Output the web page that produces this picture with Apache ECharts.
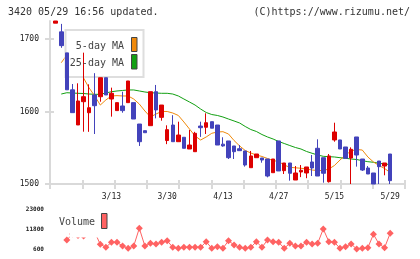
<!DOCTYPE html>
<html>
<head>
<meta charset="utf-8">
<script src="https://cdn.jsdelivr.net/npm/echarts@6/dist/echarts.min.js"></script>
<style>
html,body{margin:0;padding:0;background:#fff;}
#chart{width:420px;height:259px;}
</style>
</head>
<body>
<div id="chart"></div>
<script>
// 日付 (2020)
var dates = ['2/28','3/2','3/3','3/4','3/5','3/6','3/9','3/10','3/11','3/12',
    '3/13','3/16','3/17','3/18','3/19','3/23','3/24','3/25','3/26','3/27',
    '3/30','3/31','4/1','4/2','4/3','4/6','4/7','4/8','4/9','4/10',
    '4/13','4/14','4/15','4/16','4/17','4/20','4/21','4/22','4/23','4/24',
    '4/27','4/28','4/30','5/1','5/7','5/8','5/11','5/12','5/13','5/14',
    '5/15','5/18','5/19','5/20','5/21','5/22','5/25','5/26','5/27','5/28','5/29'];
var labelDates = ['3/13','3/30','4/13','4/27','5/15','5/29'];

var opens  = [1722,1710,1681,1630,1581.5,1613.6,1598.4,1622.9,1620.5,1646.7,
    1617.3,1601.3,1607.7,1612.3,1612.3,1582.8,1573.6,1580.5,1627.4,1592,
    1560,1581.4,1558.4,1564.5,1548.3,1544.6,1580,1578.3,1586,1581.4,
    1555,1559.4,1552.5,1548.7,1545.6,1522.5,1536.3,1535.9,1534.5,1515.6,
    1559.4,1518.4,1529,1505.5,1516.6,1515.2,1530.4,1549.3,1536.3,1503.2,
    1560.8,1560.8,1551.1,1535.9,1564.9,1534.5,1522.1,1515.2,1531.7,1524.8,1541.4];
var closes = [1725,1691,1630,1598.5,1614.6,1620.5,1605.3,1608.1,1646.7,1622.9,
    1625.2,1612.3,1601.3,1642.2,1589.7,1558.4,1570.8,1627.4,1602.2,1609,
    1575,1558.4,1567.6,1549.3,1553.8,1570,1577.7,1584.6,1577,1553.8,
    1552.5,1536.3,1544.6,1546,1526.2,1538.7,1541.4,1533.1,1511,1534.5,
    1518,1529,1514.8,1515.2,1518.9,1523.5,1522.1,1511,1514.8,1538.7,
    1571.8,1548.3,1535.5,1547.9,1540,1519.3,1513.8,1500,1523.9,1529,1504.6];
var lows   = [1722,1688,1630,1598.5,1581.5,1572.2,1572,1569,1613.6,1622.9,
    1593,1601.3,1598.4,1612.3,1589.7,1552.5,1570.8,1580.5,1590.6,1587.4,
    1555,1558.4,1558.4,1549.3,1548.3,1544.6,1565,1569,1577,1553.8,
    1551.5,1534.5,1534.5,1546,1524,1522.5,1536.3,1529.4,1509.2,1515.6,
    1518,1513.8,1504.6,1505.5,1509.5,1508,1511,1511,1501.8,1502,
    1558.4,1548.3,1535.5,1500,1524,1518,1513.8,1500,1500,1512,1500];
var highs  = [1725,1721,1681,1638,1639,1681.3,1637.6,1653,1646.7,1646.7,
    1633,1612.3,1627.4,1642.2,1612.3,1582.8,1573.6,1627.4,1636.7,1609,
    1581,1595,1586,1564.5,1574.5,1572,1586,1597.6,1586,1581.4,
    1564.5,1559.4,1552.5,1553.8,1545.6,1545.6,1541.4,1535.9,1534.5,1534.5,
    1559.4,1529,1529,1524.8,1526.2,1523.5,1540,1561.7,1536.3,1541.4,
    1584.6,1560.8,1551.1,1550.6,1564.9,1534.5,1524.8,1515.2,1531.7,1529,1541.4];

// 5日移動平均
var ma5 = [null,1667.4,1678,1668,1657,1646.3,1632.5,1621.5,1609,1616,
    1621.5,1622,1621.5,1621.5,1617.3,1610.4,1600.8,1592.5,1596.6,1600.1,
    1600.1,1598,1594.6,1585.6,1575.9,1566.3,1560.7,1564.9,1570,1571.8,
    1572.2,1569,1560,1552.5,1546.2,1542.8,1540,1538,1535.2,1532.4,
    1531,1526.2,1523,1522.4,1521.7,1520.7,1519.3,1518.6,1518.6,1520.7,
    1525.5,1533.1,1540,1545.6,1547.6,1546.9,1537.3,1530.4,1525.5,1521.4,1515.9];
// 25日移動平均
var ma25 = [null,1624.2,1626,1625.6,1625.2,1624.9,1624.2,1623.8,1623.8,1625.6,
    1627.4,1628.4,1629.1,1629.8,1629.8,1628.4,1627,1626,1625.6,1625.2,
    1625.2,1624.2,1621.5,1617.3,1613.2,1609,1603.5,1598.7,1595.9,1594.6,
    1592.5,1589.7,1587,1584.2,1579.4,1575.2,1572.5,1568.3,1564.9,1562.1,
    1558.7,1555.9,1553.1,1550.4,1548.3,1544.9,1542.4,1540,1538.2,1537.7,
    1537.3,1536.3,1535.5,1534.5,1533.8,1532.2,1530.8,1530,1528.6,1527.6,1526.9];
// 出来高
var volumes = [null,null,5640,9000,8200,7900,9500,10000,3232,1552,
    4352,4352,2280,992,2280,12192,2280,3792,3400,4352,
    5248,1552,992,1552,1552,1552,1552,4688,992,1888,
    992,5248,2840,1552,992,1552,4688,1552,5640,4688,
    4352,992,3792,2280,2280,4352,3400,3792,11800,4688,
    4352,992,1888,3400,600,992,1328,8832,3400,1328,9392];

var priceTicks = [1500, 1600, 1700];
var volumeTicks = [600, 11800, 23000];
var frameTicks = [0,1,2,3,4,5,6,7,8,9,10,11];

var UP = '#dd0000', DOWN = '#4343bb';
var AXIS = '#d9d9d9';
var MONO = '"DejaVu Sans Mono", monospace';

var categories = dates.concat(['', '']);
var candles = [];
for (var i = 0; i < dates.length; i++) {
    candles.push([opens[i], closes[i], lows[i], highs[i]]);
}

function plain(v) { return String(v); }

var chart = echarts.init(document.getElementById('chart'), null, {renderer: 'canvas'});

var option = {
    animation: false,
    backgroundColor: '#fff',
    grid: [
        {left: 50, top: 21, width: 355, height: 163},
        {left: 52.9, top: 21, width: 351.2, height: 163},
        {left: 52.9, top: 209, width: 351.2, height: 40}
    ],
    xAxis: [
        {type: 'value', gridIndex: 0, min: 0, max: 11, position: 'bottom',
            axisLine: {show: true, lineStyle: {color: AXIS, width: 2}},
            axisTick: {show: true, length: 5, customValues: frameTicks, lineStyle: {color: AXIS, width: 2}},
            axisLabel: {show: false}, splitLine: {show: false}},
        {type: 'value', gridIndex: 0, min: 0, max: 11, position: 'bottom',
            axisLine: {show: false},
            axisTick: {show: true, inside: true, length: 4, customValues: frameTicks, lineStyle: {color: AXIS, width: 2}},
            axisLabel: {show: false}, splitLine: {show: false}},
        {type: 'category', gridIndex: 1, data: categories, boundaryGap: true,
            axisLine: {show: false}, axisTick: {show: false}, splitLine: {show: false},
            axisLabel: {
                margin: 9, fontSize: 8, fontFamily: MONO, color: '#222',
                interval: function (idx, val) { return labelDates.indexOf(val) >= 0; }
            }},
        {type: 'category', gridIndex: 2, data: categories, boundaryGap: true,
            axisLine: {show: false}, axisTick: {show: false}, axisLabel: {show: false}, splitLine: {show: false}}
    ],
    yAxis: [
        {type: 'value', gridIndex: 0, min: 1500, max: 1725, position: 'left',
            axisLine: {show: true, lineStyle: {color: AXIS, width: 2}},
            axisTick: {show: true, length: 5, customValues: priceTicks, lineStyle: {color: AXIS, width: 2}},
            axisLabel: {margin: 11, customValues: priceTicks, formatter: plain,
                fontSize: 8, fontFamily: MONO, color: '#222'},
            splitLine: {show: false}},
        {type: 'value', gridIndex: 0, min: 1500, max: 1725, position: 'left',
            axisLine: {show: false},
            axisTick: {show: true, inside: true, length: 4, customValues: priceTicks, lineStyle: {color: AXIS, width: 2}},
            axisLabel: {show: false}, splitLine: {show: false}},
        {type: 'value', gridIndex: 1, min: 1500, max: 1725,
            axisLine: {show: false}, axisTick: {show: false}, axisLabel: {show: false}, splitLine: {show: false}},
        {type: 'value', gridIndex: 2, min: 600, max: 23000,
            axisLine: {show: false}, axisTick: {show: false}, splitLine: {show: false},
            axisLabel: {margin: 9, customValues: volumeTicks, formatter: plain,
                fontSize: 6, fontWeight: 'bold', fontFamily: MONO, color: '#222'}}
    ],
    series: [
        {name: '25-day MA', type: 'line', xAxisIndex: 2, yAxisIndex: 2, data: ma25, z: 1,
            showSymbol: false, lineStyle: {color: '#12a012', width: 1}},
        {name: '5-day MA', type: 'line', xAxisIndex: 2, yAxisIndex: 2, data: ma5, z: 1,
            showSymbol: false, lineStyle: {color: '#f08a0c', width: 1}},
        {name: 'price', type: 'candlestick', xAxisIndex: 2, yAxisIndex: 2, data: candles, z: 3,
            barWidth: 4, clip: true,
            itemStyle: {color: UP, color0: DOWN, borderColor: UP, borderColor0: DOWN, borderWidth: 1}},
        {name: 'Volume', type: 'line', xAxisIndex: 3, yAxisIndex: 3, data: volumes, z: 1,
            symbol: 'diamond', symbolSize: 7, showSymbol: true, showAllSymbol: true,
            itemStyle: {color: '#ff6262'}, lineStyle: {color: '#ff6262', width: 1}}
    ],
    graphic: [
        {type: 'text', x: 8, y: 12.5, z: 4,
            style: {text: '3420 05/29 16:56 updated.', font: '10px ' + MONO, fill: '#333',
                textVerticalAlign: 'middle', verticalAlign: 'middle'}},
        {type: 'text', x: 410, y: 12.5, z: 4,
            style: {text: '(C)https://www.rizumu.net/', font: '10px ' + MONO, fill: '#333',
                textAlign: 'right', align: 'right', textVerticalAlign: 'middle', verticalAlign: 'middle'}},
        // 移動平均の凡例
        {type: 'rect', z: 2, shape: {x: 65.5, y: 30, width: 78, height: 47},
            style: {fill: '#fff', stroke: '#dedede', lineWidth: 2}},
        {type: 'text', x: 124, y: 46.5, z: 4,
            style: {text: '5-day MA', font: '10px ' + MONO, fill: '#444',
                textAlign: 'right', align: 'right', textVerticalAlign: 'middle', verticalAlign: 'middle'}},
        {type: 'text', x: 124, y: 63.5, z: 4,
            style: {text: '25-day MA', font: '10px ' + MONO, fill: '#444',
                textAlign: 'right', align: 'right', textVerticalAlign: 'middle', verticalAlign: 'middle'}},
        {type: 'rect', z: 4, shape: {x: 131.5, y: 37.5, width: 5.5, height: 14},
            style: {fill: '#f08a0c', stroke: '#444', lineWidth: 1}},
        {type: 'rect', z: 4, shape: {x: 131.5, y: 54.5, width: 5.5, height: 14.5},
            style: {fill: '#12a012', stroke: '#444', lineWidth: 1}},
        // 出来高の凡例
        {type: 'rect', z: 2, shape: {x: 69.5, y: 205, width: 29.5, height: 32.5},
            style: {fill: '#fff'}},
        {type: 'text', x: 59, y: 222.5, z: 4,
            style: {text: 'Volume', font: '10px ' + MONO, fill: '#444',
                textVerticalAlign: 'middle', verticalAlign: 'middle'}},
        {type: 'rect', z: 4, shape: {x: 101.5, y: 213.5, width: 5.5, height: 15},
            style: {fill: '#ff6262', stroke: '#444', lineWidth: 1}}
    ]
};

chart.setOption(option);
window.onresize = chart.resize;
</script>
</body>
</html>
